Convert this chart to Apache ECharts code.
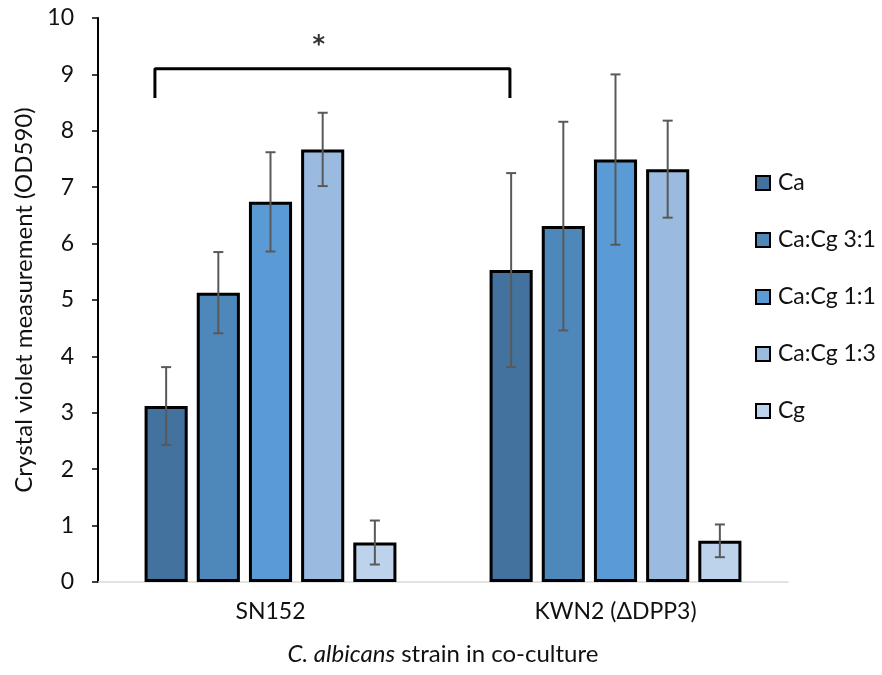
<!DOCTYPE html>
<html>
<head>
<meta charset="utf-8">
<script src="https://cdn.jsdelivr.net/npm/echarts@6/dist/echarts.min.js"></script>
<style>html,body{margin:0;padding:0;background:#fff}#c{width:882px;height:675px}</style>
</head>
<body>
<div id="c"></div>
<script>
const categories = ['SN152', 'KWN2 (ΔDPP3)'];
const seriesNames = ['Ca', 'Ca:Cg 3:1', 'Ca:Cg 1:1', 'Ca:Cg 1:3', 'Cg'];
const valCa = [3.12, 5.53];
const valCa31 = [5.13, 6.31];
const valCa11 = [6.74, 7.49];
const valCa13 = [7.67, 7.32];
const valCg = [0.70, 0.73];
const errCa = [0.69, 1.72];
const errCa31 = [0.72, 1.85];
const errCa11 = [0.88, 1.51];
const errCa13 = [0.65, 0.86];
const errCg = [0.39, 0.29];
const yTicks = [0, 1, 2, 3, 4, 5, 6, 7, 8, 9, 10];
// significance bracket in (continuous category position, value) units
const bracketX = [0.165, 1.194];
const bracketY = [8.58, 9.1];
const starPos = [0.64, 9.5];

const colors = ['#43729E', '#4E88BB', '#5B9BD5', '#9BBAE0', '#BDD2EB'];
const values = [valCa, valCa31, valCa11, valCa13, valCg];
const errors = [errCa, errCa31, errCa11, errCa13, errCg];
const FONT = 'Lato';
const TXT = '#111';
const catGap = 0.27, barGapR = 0.21, nBars = 5;

const series = [];
values.forEach((v, i) => {
  series.push({
    name: seriesNames[i], type: 'bar', data: v,
    barGap: (barGapR * 100) + '%', barCategoryGap: (catGap * 100) + '%',
    itemStyle: { color: colors[i], borderColor: '#000', borderWidth: 3 },
    z: 2
  });
});
values.forEach((v, i) => {
  series.push({
    type: 'custom', name: 'err' + i, z: 5,
    data: v.map((val, k) => [k, val - errors[i][k], val + errors[i][k]]),
    renderItem: function (params, api) {
      const catW = api.size([1, 0])[0];
      const groupW = catW * (1 - catGap);
      const w = groupW / (nBars + (nBars - 1) * barGapR);
      const pitch = w * (1 + barGapR);
      const c = api.coord([api.value(0), 0]);
      const x = c[0] + (i - (nBars - 1) / 2) * pitch;
      const lo = api.coord([api.value(0), api.value(1)])[1];
      const hi = api.coord([api.value(0), api.value(2)])[1];
      const cap = 5;
      const st = { stroke: '#595959', lineWidth: 2 };
      return { type: 'group', children: [
        { type: 'line', shape: { x1: x, y1: lo, x2: x, y2: hi }, style: st },
        { type: 'line', shape: { x1: x - cap, y1: lo, x2: x + cap, y2: lo }, style: st },
        { type: 'line', shape: { x1: x - cap, y1: hi, x2: x + cap, y2: hi }, style: st }
      ]};
    }
  });
});
series.push({
  type: 'line', xAxisIndex: 1, yAxisIndex: 0, symbol: 'none', z: 6,
  lineStyle: { color: '#000', width: 3 },
  data: [[bracketX[0], bracketY[0]], [bracketX[0], bracketY[1]], [bracketX[1], bracketY[1]], [bracketX[1], bracketY[0]]]
});
series.push({
  type: 'scatter', xAxisIndex: 1, yAxisIndex: 0, symbolSize: 0, z: 6,
  data: [starPos],
  label: { show: true, position: 'inside', formatter: '*', fontFamily: 'DejaVu Sans', fontSize: 24, color: '#000', fontWeight: 'bold' }
});

const chart = echarts.init(document.getElementById('c'), null, { renderer: 'canvas' });
chart.setOption({
  animation: false,
  backgroundColor: '#fff',
  textStyle: { fontFamily: FONT },
  grid: { left: 98, right: 94, top: 18, bottom: 93, containLabel: false },
  legend: {
    data: seriesNames, orient: 'vertical', left: 750, top: 166,
    itemWidth: 14, itemHeight: 14, itemGap: 33,
    icon: 'rect',
    textStyle: { fontFamily: FONT, fontSize: 23, lineHeight: 24, color: TXT, padding: [0, 0, 0, 3] }
  },
  xAxis: [{
    type: 'category', data: categories,
    axisLine: { lineStyle: { color: '#d9d9d9', width: 1.5 } },
    axisTick: { show: false },
    axisLabel: { fontFamily: FONT, fontSize: 23, color: TXT, margin: 18 },
    name: '{i|C. albicans} strain in co-culture',
    nameLocation: 'middle', nameGap: 60,
    nameTextStyle: { fontFamily: FONT, fontSize: 24, color: TXT,
      rich: { i: { fontFamily: FONT, fontSize: 24, fontStyle: 'italic', color: TXT } } }
  }, {
    type: 'value', min: 0, max: 2, show: false
  }],
  yAxis: {
    type: 'value', min: yTicks[0], max: yTicks[yTicks.length - 1], interval: 1,
    axisLine: { show: true, lineStyle: { color: '#000', width: 2 } },
    axisTick: { show: true, length: 6, lineStyle: { color: '#000', width: 1.5 } },
    axisLabel: { fontFamily: FONT, fontSize: 23, color: TXT, margin: 24 },
    splitLine: { show: false },
    name: 'Crystal violet measurement (OD590)',
    nameLocation: 'middle', nameGap: 62, nameRotate: 90,
    nameTextStyle: { fontFamily: FONT, fontSize: 24, color: TXT }
  },
  series: series
});
</script>
</body>
</html>
